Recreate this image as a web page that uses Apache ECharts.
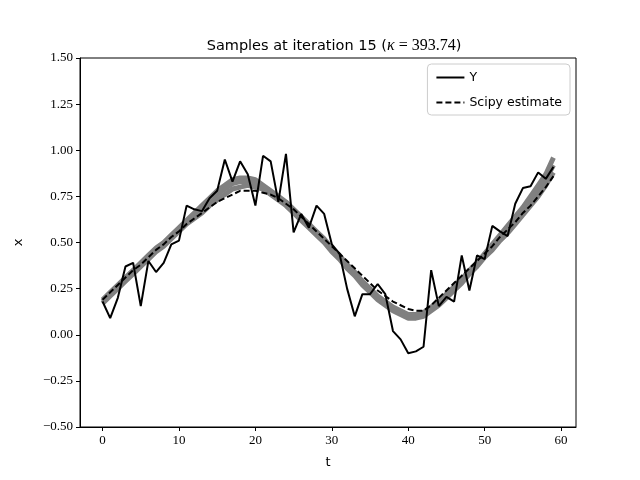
<!DOCTYPE html>
<html><head><meta charset="utf-8">
<script src="https://cdn.jsdelivr.net/npm/echarts@6/dist/echarts.min.js"></script>
<style>html,body{margin:0;padding:0;background:#fff}#c{width:640px;height:480px}</style>
</head><body><div id="c"></div>
<script>
const tValues = Array.from({length: 60}, (_, i) => i);
const yObserved = [0.18,0.09,0.20,0.37,0.39,0.155,0.40,0.34,0.39,0.49,
  0.51,0.70,0.68,0.67,0.74,0.78,0.95,0.83,0.94,0.87,
  0.70,0.97,0.94,0.72,0.98,0.555,0.655,0.58,0.70,0.655,
  0.49,0.44,0.25,0.10,0.22,0.22,0.275,0.22,0.02,-0.025,
  -0.10,-0.09,-0.065,0.35,0.155,0.205,0.18,0.43,0.24,0.43,
  0.41,0.59,0.56,0.535,0.71,0.795,0.805,0.88,0.845,0.91];
const scipyEstimate = [0.19,0.23,0.27,0.31,0.35,0.38,0.42,0.46,0.49,0.53,
  0.56,0.60,0.63,0.66,0.69,0.72,0.74,0.76,0.78,0.78,
  0.78,0.77,0.76,0.74,0.71,0.68,0.64,0.60,0.56,0.52,
  0.48,0.44,0.40,0.36,0.32,0.28,0.24,0.21,0.18,0.16,
  0.14,0.13,0.13,0.16,0.20,0.24,0.28,0.32,0.36,0.40,
  0.44,0.48,0.53,0.57,0.61,0.66,0.70,0.75,0.80,0.86];
const sampleUpper = [0.19,0.23,0.27,0.31,0.35,0.39,0.43,0.47,0.50,0.54,
  0.58,0.62,0.66,0.70,0.74,0.78,0.81,0.84,0.85,0.85,
  0.84,0.81,0.78,0.75,0.72,0.68,0.64,0.60,0.56,0.52,
  0.47,0.43,0.38,0.34,0.29,0.25,0.21,0.18,0.15,0.13,
  0.11,0.11,0.12,0.15,0.18,0.22,0.26,0.30,0.35,0.39,
  0.44,0.49,0.54,0.59,0.64,0.69,0.75,0.81,0.87,0.96];
const sampleMid = [0.18,0.22,0.26,0.30,0.34,0.38,0.42,0.46,0.49,0.53,
  0.57,0.61,0.64,0.68,0.72,0.76,0.79,0.82,0.83,0.83,
  0.82,0.80,0.77,0.74,0.71,0.67,0.63,0.59,0.55,0.51,
  0.46,0.42,0.37,0.33,0.28,0.24,0.20,0.17,0.14,0.12,
  0.10,0.10,0.11,0.14,0.17,0.21,0.25,0.29,0.34,0.38,
  0.43,0.48,0.52,0.57,0.62,0.67,0.72,0.78,0.84,0.92];
const sampleLower = [0.17,0.21,0.25,0.29,0.33,0.37,0.41,0.45,0.48,0.52,
  0.56,0.60,0.63,0.66,0.70,0.73,0.76,0.79,0.80,0.81,
  0.80,0.79,0.76,0.73,0.70,0.66,0.62,0.58,0.54,0.50,
  0.45,0.41,0.36,0.32,0.27,0.23,0.19,0.16,0.13,0.11,
  0.09,0.09,0.10,0.13,0.16,0.20,0.24,0.28,0.33,0.37,
  0.42,0.46,0.51,0.55,0.60,0.65,0.70,0.75,0.81,0.88];
const xTicks = [0,10,20,30,40,50,60];

const pair = arr => tValues.map((t, i) => [t, arr[i]]);
const serif = '"Liberation Serif", serif';
const sans = '"DejaVu Sans", sans-serif';
const fmtY = v => { const s = Math.abs(v).toFixed(2); return v < 0 ? '\u2212' + s : s; };

const chart = echarts.init(document.getElementById('c'), null, {renderer: 'canvas'});
const graySeries = (name, arr) => ({
  name, type: 'line', data: pair(arr), symbol: 'none', silent: true,
  lineStyle: {color: '#808080', width: 5}, z: 1
});
chart.setOption({
  animation: false,
  title: {
    text: '{s|Samples at iteration 15 (}{k|\u03ba}{m| = 393.74}{s|)}',
    left: 329, top: 33, textAlign: 'center',
    textStyle: {fontWeight: 'normal', rich: {
      s: {fontFamily: sans, fontSize: 14.5, fontWeight: 'normal', color: '#000'},
      k: {fontFamily: serif, fontStyle: 'italic', fontSize: 16, fontWeight: 'normal', color: '#000'},
      m: {fontFamily: serif, fontSize: 16, fontWeight: 'normal', color: '#000'}
    }}
  },
  legend: {
    data: [{name: 'Y'}, {name: 'Scipy estimate'}],
    orient: 'vertical', right: 70, top: 64,
    itemWidth: 28, itemHeight: 10, itemGap: 12,
    itemStyle: {opacity: 0},
    backgroundColor: 'rgba(255,255,255,0.8)',
    borderColor: '#cccccc', borderWidth: 1, borderRadius: 4,
    padding: [7, 8, 6, 8],
    textStyle: {fontFamily: sans, fontSize: 12.5, color: '#000'}
  },
  grid: {left: 80, right: 64, top: 58, bottom: 53, show: true,
         borderColor: '#000', borderWidth: 1, containLabel: false},
  xAxis: {
    type: 'value', min: -2.95, max: 61.95,
    name: 't', nameLocation: 'middle', nameGap: 29,
    nameTextStyle: {fontFamily: sans, fontSize: 13, color: '#000'},
    axisLine: {show: true, onZero: false, lineStyle: {color: '#000', width: 1}},
    axisTick: {show: true, inside: false, length: 4, customValues: xTicks, lineStyle: {color: '#000'}},
    axisLabel: {customValues: xTicks, fontFamily: serif, fontSize: 13, color: '#000', margin: 7},
    splitLine: {show: false}
  },
  yAxis: {
    type: 'value', min: -0.5, max: 1.5, interval: 0.25,
    name: 'x', nameLocation: 'middle', nameGap: 55, nameRotate: 90,
    nameTextStyle: {fontFamily: sans, fontSize: 13, color: '#000'},
    axisLine: {show: true, onZero: false, lineStyle: {color: '#000', width: 1}},
    axisTick: {show: true, inside: false, length: 4, lineStyle: {color: '#000'}},
    axisLabel: {formatter: fmtY, fontFamily: serif, fontSize: 13, color: '#000', margin: 7},
    splitLine: {show: false}
  },
  series: [
    graySeries('s1', sampleUpper),
    graySeries('s2', sampleMid),
    graySeries('s3', sampleLower),
    {name: 'Y', type: 'line', data: pair(yObserved), symbol: 'none',
     lineStyle: {color: '#000', width: 2}, itemStyle: {color: '#000'}, z: 3},
    {name: 'Scipy estimate', type: 'line', data: pair(scipyEstimate), symbol: 'none',
     lineStyle: {color: '#000', width: 2, type: [6, 3]}, itemStyle: {color: '#000'}, z: 4}
  ]
});
</script></body></html>
